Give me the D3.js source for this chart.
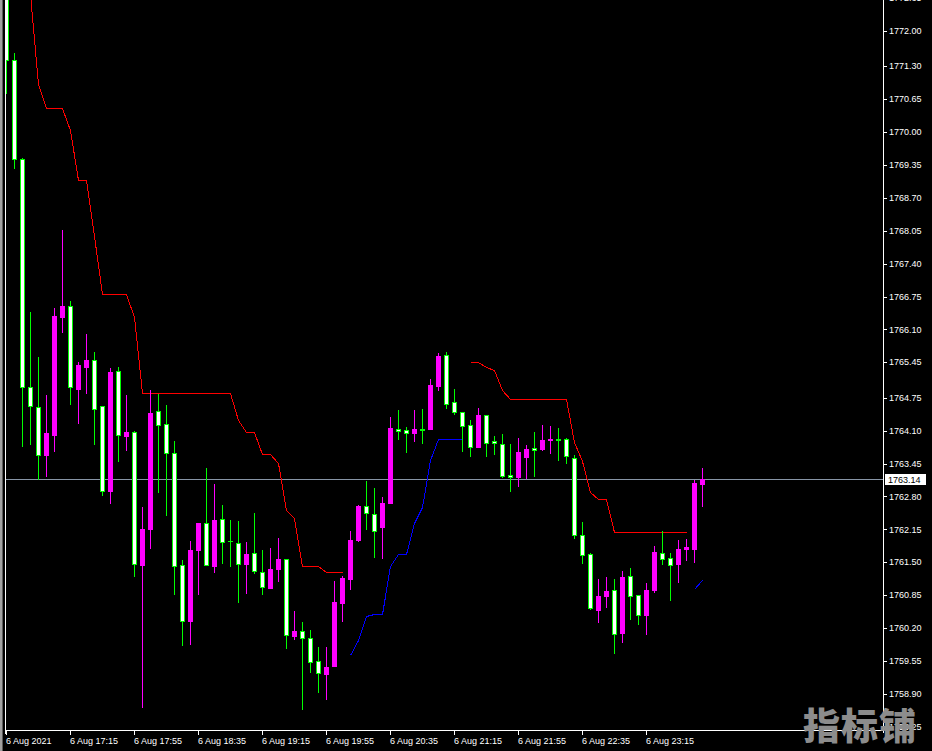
<!DOCTYPE html>
<html><head><meta charset="utf-8">
<script src="https://cdn.jsdelivr.net/npm/d3@7"></script>
<style>html,body{margin:0;padding:0;background:#000;overflow:hidden}</style>
</head><body>
<script>
// ---- DATA ----
const times = ["16:35","16:40","16:45","16:50","16:55",
"17:00","17:05","17:10","17:15","17:20","17:25","17:30","17:35","17:40","17:45","17:50","17:55",
"18:00","18:05","18:10","18:15","18:20","18:25","18:30","18:35","18:40","18:45","18:50","18:55",
"19:00","19:05","19:10","19:15","19:20","19:25","19:30","19:35","19:40","19:45","19:50","19:55",
"20:00","20:05","20:10","20:15","20:20","20:25","20:30","20:35","20:40","20:45","20:50","20:55",
"21:00","21:05","21:10","21:15","21:20","21:25","21:30","21:35","21:40","21:45","21:50","21:55",
"22:00","22:05","22:10","22:15","22:20","22:25","22:30","22:35","22:40","22:45","22:50","22:55",
"23:00","23:05","23:10","23:15","23:20","23:25","23:30","23:35","23:40","23:45","23:50"];

const open = [1773.00,1771.43,1769.46,1764.96,1764.57,1763.62,1764.02,1766.35,1766.56,1764.93,
1765.36,1765.50,1764.59,1762.91,1765.27,1764.00,1764.07,1761.45,1762.16,1764.48,
1764.23,1763.65,1761.44,1760.34,1761.74,1762.27,1761.43,1762.35,1761.93,1761.89,
1761.47,1761.68,1761.30,1761.00,1761.37,1761.57,1760.05,1760.14,1760.00,1759.55,
1759.30,1759.46,1760.70,1761.18,1761.94,1762.61,1762.45,1762.20,1762.68,1764.13,
1764.11,1764.05,1764.13,1764.13,1764.98,1765.59,1764.66,1764.46,1764.21,1763.78,
1764.40,1763.89,1763.83,1763.22,1763.19,1763.58,1763.76,1763.74,1763.91,1763.93,
1763.93,1763.57,1762.03,1761.66,1760.56,1760.84,1760.95,1760.11,1761.22,1760.85,
1760.46,1760.95,1761.68,1761.58,1761.47,1761.76,1761.76,1763.05];

const high = [1773.05,1771.56,1769.49,1766.45,1765.56,1764.80,1766.52,1768.07,1766.66,1765.45,
1766.01,1765.65,1764.59,1765.34,1765.35,1764.80,1764.09,1762.59,1764.90,1764.82,
1764.61,1763.90,1761.55,1761.92,1762.28,1763.36,1763.05,1762.63,1762.34,1762.32,
1761.90,1762.47,1761.74,1761.78,1761.99,1761.57,1760.54,1760.32,1760.16,1759.83,
1759.83,1761.14,1761.23,1762.12,1762.64,1763.11,1762.97,1762.79,1764.37,1764.51,
1764.17,1764.51,1764.53,1765.12,1765.64,1765.65,1764.92,1764.46,1764.31,1764.55,
1764.40,1763.99,1764.03,1763.84,1763.96,1763.82,1764.07,1764.21,1764.19,1764.15,
1763.96,1763.61,1762.30,1761.68,1761.17,1761.21,1761.17,1761.33,1761.39,1760.85,
1761.09,1761.82,1762.12,1761.68,1761.94,1761.96,1763.13,1763.36];

const low = [1770.76,1769.29,1763.80,1763.83,1763.14,1763.21,1763.69,1766.05,1764.62,1764.25,
1764.85,1763.84,1762.82,1762.68,1763.51,1763.72,1761.22,1758.65,1761.79,1762.89,
1762.43,1760.87,1759.87,1759.89,1760.87,1761.45,1761.31,1761.49,1761.43,1760.72,
1760.90,1761.28,1760.88,1761.00,1761.14,1759.81,1759.99,1758.60,1759.34,1758.94,
1758.81,1759.46,1760.35,1760.98,1761.93,1762.16,1761.61,1761.59,1762.68,1763.94,
1763.68,1763.90,1763.86,1764.13,1764.90,1764.55,1764.42,1763.70,1763.60,1763.78,
1763.60,1763.64,1763.19,1762.91,1763.01,1763.17,1763.20,1763.72,1763.66,1763.52,
1763.47,1761.99,1761.49,1760.57,1760.33,1760.62,1759.71,1759.93,1760.38,1760.28,
1760.09,1760.91,1761.47,1760.76,1761.12,1761.55,1761.51,1762.62];

const close = [1771.43,1769.46,1764.96,1764.59,1763.62,1764.06,1766.37,1766.57,1764.96,1765.40,
1765.50,1764.53,1762.90,1765.26,1764.01,1764.07,1761.47,1762.16,1764.45,1764.22,
1763.65,1761.43,1760.35,1761.74,1762.28,1761.45,1762.34,1761.91,1761.92,1761.47,
1761.66,1761.32,1761.01,1761.37,1761.57,1760.06,1760.14,1760.00,1759.54,1759.31,
1759.43,1760.72,1761.19,1761.94,1762.61,1762.47,1762.12,1762.67,1764.15,1764.10,
1764.05,1764.13,1764.12,1765.00,1765.58,1764.63,1764.46,1764.20,1763.78,1764.41,
1763.86,1763.85,1763.21,1763.19,1763.68,1763.74,1763.72,1763.92,1763.93,1763.92,
1763.59,1762.03,1761.64,1760.59,1760.83,1760.93,1760.08,1761.21,1760.84,1760.45,
1760.95,1761.70,1761.57,1761.45,1761.76,1761.80,1763.07,1763.14];

const upperStop = [1773.40,1773.20,1772.96,1772.72,1770.95,1770.48,1770.48,1770.48,1770.04,1769.05,
1769.05,1767.95,1766.80,1766.80,1766.80,1766.80,1766.35,1764.84,1764.84,1764.84,
1764.84,1764.84,1764.84,1764.84,1764.84,1764.84,1764.84,1764.84,1764.84,1764.31,
1764.07,1764.07,1763.64,1763.64,1763.46,1762.53,1762.38,1761.43,1761.43,1761.43,
1761.31,1761.31,1761.31,null,null,null,null,null,null,null,
null,null,null,null,null,null,null,null,1765.45,1765.45,
1765.35,1765.30,1764.90,1764.73,1764.73,1764.73,1764.73,1764.73,1764.73,1764.73,
1764.73,1763.88,1763.50,1762.89,1762.76,1762.76,1762.09,1762.09,1762.09,1762.09,
1762.09,1762.09,1762.09,1762.09,1762.09,1762.09,null,null];

const lowerStop = [null,null,null,null,null,null,null,null,null,null,
null,null,null,null,null,null,null,null,null,null,
null,null,null,null,null,null,null,null,null,null,
null,null,null,null,null,null,null,null,null,null,
null,null,null,1759.67,1759.97,1760.44,1760.47,1760.47,1761.43,1761.66,
1761.66,1762.28,1762.59,1763.52,1763.93,1763.93,1763.93,1763.93,null,null,
null,null,null,null,null,null,null,null,null,null,
null,null,null,null,null,null,null,null,null,null,
null,null,null,null,null,null,1760.97,1761.15];

const priceTicks = ["1772.65","1772.00","1771.30","1770.65","1770.00","1769.35","1768.70","1768.05",
"1767.40","1766.75","1766.10","1765.45","1764.75","1764.10","1763.45","1762.80","1762.15",
"1761.50","1760.85","1760.20","1759.55","1758.90","1758.25"];

const timeTickAt = ["16:35","17:15","17:55","18:35","19:15","19:55","20:35","21:15","21:55","22:35","23:15"];
const timeTickText = ["6 Aug 2021","6 Aug 17:15","6 Aug 17:55","6 Aug 18:35","6 Aug 19:15","6 Aug 19:55",
"6 Aug 20:35","6 Aug 21:15","6 Aug 21:55","6 Aug 22:35","6 Aug 23:15"];

const lastPrice = 1763.14;

// ---- CHART ----
const W = 932, H = 751;
const plotL = 6, plotR = 883, plotB = 730;
const FONT = "'Liberation Sans', Arial, sans-serif";

const svg = d3.select("body").append("svg")
  .attr("width", W).attr("height", H)
  .style("display","block").style("background","#000");

const x = d3.scalePoint().domain(times).range([6.3, 702.3]);
const y = d3.scaleLinear().domain([1758.9, 1772.0]).range([693.95, 30.7]);
const cx = t => Math.round(x(t));

svg.append("defs").append("clipPath").attr("id","plot")
  .append("rect").attr("x", plotL).attr("y", 0).attr("width", plotR - plotL).attr("height", plotB);

// window strip at left
svg.append("rect").attr("x",0).attr("y",0).attr("width",2).attr("height",H).attr("fill","#a0a0a0");
svg.append("rect").attr("x",2).attr("y",0).attr("width",1).attr("height",H).attr("fill","#5a5a5a");

const plot = svg.append("g").attr("clip-path","url(#plot)");

// bid line
plot.append("rect").attr("x", plotL).attr("y", Math.round(y(lastPrice)))
  .attr("width", plotR - plotL).attr("height", 1).attr("fill", "#8795a6");

// indicator lines
const lineGen = d3.line()
  .defined(d => d.v !== null)
  .x(d => cx(d.t) + 0.5)
  .y(d => Math.round(y(d.v)) + 0.5);

plot.append("path")
  .datum(times.map((t,i) => ({t, v: upperStop[i]})))
  .attr("d", lineGen).attr("fill","none").attr("stroke","#ff0000")
  .attr("stroke-width",1).attr("shape-rendering","crispEdges");

plot.append("path")
  .datum(times.map((t,i) => ({t, v: lowerStop[i]})))
  .attr("d", lineGen).attr("fill","none").attr("stroke","#0000ff")
  .attr("stroke-width",1).attr("shape-rendering","crispEdges");

// candles
const cg = plot.append("g").attr("shape-rendering","crispEdges");
times.forEach((t, i) => {
  const c = cx(t);
  const yo = Math.round(y(open[i])), yc = Math.round(y(close[i]));
  const yh = Math.round(y(high[i])), yl = Math.round(y(low[i]));
  const bull = close[i] >= open[i];
  const col = bull ? "#ff00ff" : "#00ff00";
  cg.append("rect").attr("x", c).attr("y", yh).attr("width", 1).attr("height", Math.max(1, yl - yh + 1)).attr("fill", col);
  const top = Math.min(yo, yc), bot = Math.max(yo, yc);
  if (bull) {
    cg.append("rect").attr("x", c - 2).attr("y", top).attr("width", 5).attr("height", Math.max(1, bot - top + 1)).attr("fill", col);
  } else {
    if (bot - top >= 2) {
      cg.append("rect").attr("x", c - 2).attr("y", top).attr("width", 5).attr("height", bot - top + 1).attr("fill", col);
      cg.append("rect").attr("x", c - 1).attr("y", top + 1).attr("width", 3).attr("height", bot - top - 1).attr("fill", "#ffffff");
    } else {
      cg.append("rect").attr("x", c - 2).attr("y", top).attr("width", 5).attr("height", bot - top + 1).attr("fill", col);
    }
  }
});

// frame
const frame = svg.append("g").attr("shape-rendering","crispEdges").attr("fill","#ffffff");
frame.append("rect").attr("x",5).attr("y",0).attr("width",1).attr("height",734);
frame.append("rect").attr("x",5).attr("y",plotB).attr("width",plotR - 5 + 1).attr("height",1);
frame.append("rect").attr("x",plotR).attr("y",0).attr("width",1).attr("height",733);

// price axis
const pa = svg.append("g");
priceTicks.forEach(lbl => {
  const v = +lbl, yy = Math.round(y(v));
  pa.append("rect").attr("x", plotR + 1).attr("y", yy).attr("width", 3).attr("height", 1)
    .attr("fill","#ffffff").attr("shape-rendering","crispEdges");
  pa.append("text").attr("x", 889).attr("y", y(v)).attr("dy","0.35em")
    .attr("fill","#ffffff").attr("font-family", FONT).attr("font-size","9px").text(lbl);
});

// last price box
const yl0 = Math.round(y(lastPrice));
pa.append("rect").attr("x", 885).attr("y", yl0 - 5).attr("width", 41).attr("height", 11)
  .attr("fill","#ffffff").attr("shape-rendering","crispEdges");
pa.append("text").attr("x", 888).attr("y", yl0 + 0.5).attr("dy","0.35em")
  .attr("fill","#000000").attr("font-family", FONT).attr("font-size","9px").text(lastPrice.toFixed(2));

// time axis
const ta = svg.append("g");
timeTickAt.forEach((t, j) => {
  const c = cx(t);
  ta.append("rect").attr("x", c).attr("y", plotB + 1).attr("width", 1).attr("height", 4)
    .attr("fill","#ffffff").attr("shape-rendering","crispEdges");
  ta.append("text").attr("x", c).attr("y", 743.5)
    .attr("fill","#ffffff").attr("font-family", FONT).attr("font-size","9px").text(timeTickText[j]);
});

// watermark
svg.append("text").attr("x", 803).attr("y", 740)
  .attr("fill","#8c8c8c").attr("font-family","'Noto Sans CJK SC', sans-serif")
  .attr("font-weight", 900).attr("font-size","37px").attr("letter-spacing","1px")
  .text("指标铺");
</script>
</body></html>
